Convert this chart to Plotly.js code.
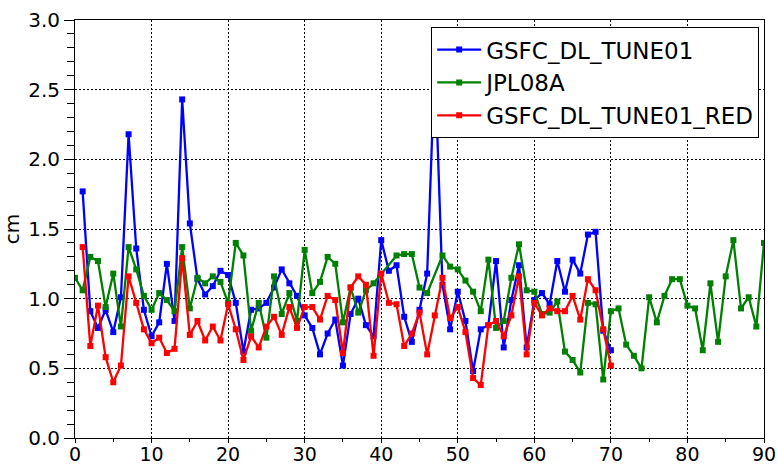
<!DOCTYPE html>
<html>
<head>
<meta charset="utf-8">
<script src="https://cdn.plot.ly/plotly-3.0.1.min.js"></script>
<style>html,body{margin:0;padding:0;background:#fff;}#chart{width:778px;height:466px;}</style>
</head>
<body>
<div id="chart"></div>
<script>
const gsfcX = [1,2,3,4,5,6,7,8,9,10,11,12,13,14,15,16,17,18,19,20,21,22,23,24,25,26,27,28,29,30,31,32,33,34,35,36,37,38,39,40,41,42,43,44,45,46,47,48,49,50,51,52,53,54,55,56,57,58,59,60,61,62,63,64,65,66,67,68,69,70];
const gsfcY = [1.77,0.91,0.79,0.92,0.76,1.01,2.18,1.36,0.92,0.73,0.83,1.25,0.84,2.43,1.54,1.14,1.03,1.09,1.20,1.17,0.97,0.62,0.92,0.93,0.97,1.08,1.21,1.11,1.02,0.88,0.79,0.60,0.75,0.85,0.52,0.89,1.00,0.81,0.73,1.42,1.20,1.24,0.87,0.69,0.92,1.18,2.70,1.10,0.78,1.05,0.84,0.48,0.78,0.81,1.27,0.65,0.99,1.24,0.65,0.99,1.04,0.96,1.27,1.05,1.28,1.18,1.46,1.48,0.77,0.63];

const jplX = [0,1,2,3,4,5,6,7,8,9,10,11,12,13,14,15,16,17,18,19,20,21,22,23,24,25,26,27,28,29,30,31,32,33,34,35,36,37,38,39,42,43,44,45,46,48,49,50,51,52,53,54,55,56,57,58,59,60,61,62,63,64,65,66,67,68,69,70,71,72,73,74,75,76,77,78,79,80,81,82,83,84,85,86,87,88,89,90];
const jplY = [1.15,1.06,1.30,1.27,0.94,1.18,0.80,1.37,1.21,1.02,0.92,1.04,0.99,0.91,1.37,0.93,1.15,1.11,1.16,1.12,0.97,1.40,1.31,0.77,0.97,0.72,1.16,0.89,1.04,0.84,1.35,1.04,1.12,1.30,1.25,0.83,1.08,0.90,1.06,1.11,1.31,1.32,1.32,1.08,1.04,1.31,1.23,1.21,1.13,1.05,0.91,1.28,0.79,0.84,1.15,1.39,1.06,1.05,0.89,0.90,0.98,0.62,0.56,0.47,0.97,0.96,0.42,0.91,0.93,0.67,0.59,0.50,1.01,0.83,1.02,1.14,1.14,0.95,0.93,0.63,1.11,0.69,1.16,1.42,0.93,1.01,0.80,1.40];

const redX = gsfcX;
const redY = [1.37,0.66,0.95,0.58,0.40,0.52,1.16,0.97,0.78,0.68,0.72,0.61,0.64,1.29,0.74,0.84,0.70,0.80,0.70,0.96,0.78,0.56,0.73,0.65,0.80,0.87,0.74,0.94,0.79,0.94,0.94,0.85,1.02,0.99,0.61,1.08,1.16,1.10,0.59,1.18,0.97,0.96,0.66,0.75,0.90,0.60,0.88,1.15,0.86,0.94,0.76,0.43,0.38,0.81,0.84,0.73,0.88,1.16,0.60,0.97,0.88,0.93,0.91,0.91,1.02,0.85,1.14,1.06,0.78,0.52];

const names = ['GSFC_DL_TUNE01','JPL08A','GSFC_DL_TUNE01_RED'];
const colors = ['#0000ff','#008000','#ff0000'];

function tr(x, y, i) {
  return {x: x, y: y, name: names[i], type: 'scatter', mode: 'lines+markers',
    line: {color: colors[i], width: 2.3},
    marker: {color: colors[i], symbol: 'square', size: 6}};
}

const data = [tr(gsfcX, gsfcY, 0), tr(jplX, jplY, 1), tr(redX, redY, 2)];

const fontFam = 'DejaVu Sans, sans-serif';
const layout = {
  width: 778, height: 466,
  margin: {l: 75, r: 14, t: 20, b: 28, pad: 0},
  paper_bgcolor: '#fff', plot_bgcolor: '#fff',
  font: {family: fontFam, color: '#000', size: 20},
  showlegend: true,
  legend: {x: 0.993, y: 0.983, xanchor: 'right', yanchor: 'top',
    bgcolor: '#fff', bordercolor: '#000', borderwidth: 1, itemwidth: 44,
    font: {family: fontFam, size: 23, color: '#000'}},
  xaxis: {range: [0, 90], tickvals: [0,10,20,30,40,50,60,70,80,90],
    showline: true, linecolor: '#000', linewidth: 1, mirror: true,
    ticks: 'outside', ticklen: 4, tickcolor: '#000', ticklabelstandoff: -5,
    minor: {dtick: 5, ticks: 'outside', ticklen: 3, tickcolor: '#000', showgrid: false},
    showgrid: true, gridcolor: '#000', gridwidth: 1, griddash: '2px,2px',
    zeroline: false, tickfont: {size: 19}},
  yaxis: {range: [0, 3], dtick: 0.5, tick0: 0, tickformat: '.1f',
    showline: true, linecolor: '#000', linewidth: 1, mirror: true,
    ticks: 'outside', ticklen: 10, tickcolor: '#000',
    minor: {dtick: 0.1, ticks: 'outside', ticklen: 7, tickcolor: '#000', showgrid: false},
    showgrid: true, gridcolor: '#000', gridwidth: 1, griddash: '2px,2px',
    zeroline: false, tickfont: {size: 20},
    title: {text: 'cm', font: {size: 20}, standoff: 10}}
};

Plotly.newPlot('chart', data, layout, {displayModeBar: false, staticPlot: true});
</script>
</body>
</html>
